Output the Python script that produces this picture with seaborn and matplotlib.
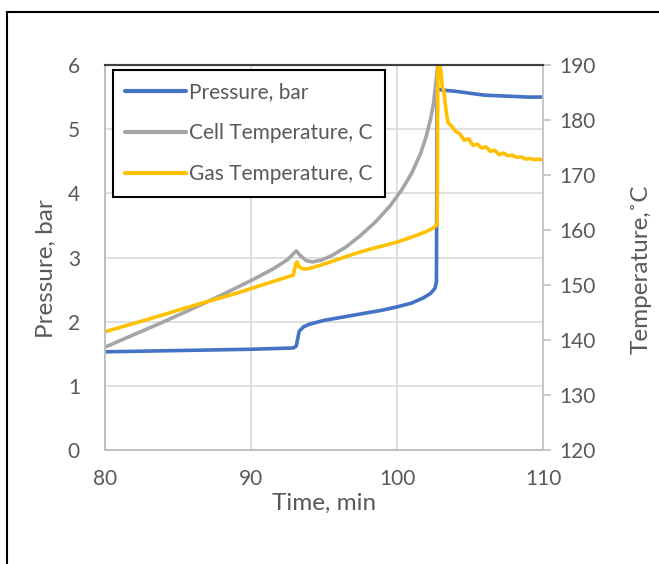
import numpy as np
import pandas as pd
import matplotlib
matplotlib.use("Agg")
import matplotlib.pyplot as plt
from matplotlib.patches import Rectangle
import seaborn as sns

# ---- Data ----
p_time = [80, 85, 90, 92.9, 93.1, 93.3, 93.6, 94, 95, 97, 99, 100, 101, 101.8,
          102.3, 102.6, 102.7, 102.75, 102.85, 103.1, 104, 105, 106, 107, 108,
          109, 110]
pressure = [1.53, 1.55, 1.57, 1.59, 1.62, 1.85, 1.92, 1.96, 2.02, 2.10, 2.18,
            2.23, 2.29, 2.37, 2.44, 2.52, 2.62, 5.62, 5.62, 5.61, 5.59, 5.56,
            5.53, 5.52, 5.51, 5.50, 5.50]

c_time = [80, 82, 84, 86, 88, 90, 91.5, 92.5, 93.1, 93.4, 93.8, 94.2, 94.8,
          95.5, 96.5, 97.5, 98.5, 99.5, 100.3, 101, 101.6, 102, 102.3, 102.5,
          102.65, 102.8]
cell_temp = [138.7, 141.0, 143.3, 145.7, 148.2, 150.8, 152.9, 154.6, 156.2,
             155.3, 154.4, 154.2, 154.5, 155.3, 156.9, 159.0, 161.4, 164.3,
             167.2, 170.3, 173.8, 177.0, 180.2, 183.0, 186.5, 190.5]

g_time = [80, 83, 86, 89, 91, 92.9, 93.05, 93.15, 93.3, 93.6, 94, 95, 96, 97,
          98, 99, 100, 101, 102, 102.5, 102.75, 102.8, 102.9, 103.0, 103.1,
          103.2, 103.3, 103.4, 103.5, 103.7, 104.0, 104.3, 104.6, 104.9, 105.2,
          105.5, 105.8, 106.1, 106.4, 106.7, 107.0, 107.3, 107.6, 107.9, 108.2,
          108.5, 108.8, 109.1, 109.4, 109.7, 110]
gas_temp = [141.5, 143.8, 146.2, 148.5, 150.2, 151.8, 153.7, 154.2, 153.3,
            152.9, 153.0, 153.8, 154.7, 155.6, 156.4, 157.1, 157.8, 158.7,
            159.7, 160.4, 161.0, 191, 191, 189, 186, 185.5, 183, 181, 179.5,
            179, 178, 177.5, 176.3, 176.6, 175.4, 175.6, 174.9, 175.1, 174.3,
            174.5, 173.7, 174.0, 173.5, 173.6, 173.2, 173.3, 172.9, 173.0,
            172.8, 172.9, 172.7]

series_labels = ["Pressure, bar", "Cell Temperature, C", "Gas Temperature, C"]
p_ticks = [0, 1, 2, 3, 4, 5, 6]
t_ticks = [120, 130, 140, 150, 160, 170, 180, 190]
x_ticks = [80, 90, 100, 110]

BLUE, GRAY, GOLD = "#4472C4", "#A5A5A5", "#FFC000"
TXT = "#595959"
GRID = "#D9D9D9"

sns.set_style("white")
plt.rcParams["font.family"] = ["Lato", "DejaVu Sans"]

fig = plt.figure(figsize=(6.59, 5.64), dpi=100)
ax = fig.add_axes([105 / 659, 114 / 564, 438 / 659, 385 / 564])
ax2 = ax.twinx()

df_p = pd.DataFrame({"t": p_time, "v": pressure})
df_c = pd.DataFrame({"t": c_time, "v": cell_temp})
df_g = pd.DataFrame({"t": g_time, "v": gas_temp})

sns.lineplot(data=df_p, x="t", y="v", ax=ax, color=BLUE, lw=2.6,
             sort=False, estimator=None, legend=False)
sns.lineplot(data=df_c, x="t", y="v", ax=ax2, color=GRAY, lw=2.6,
             sort=False, estimator=None, legend=False)
sns.lineplot(data=df_g, x="t", y="v", ax=ax2, color=GOLD, lw=2.6,
             sort=False, estimator=None, legend=False)

ax.set_xlim(80, 110)
ax.set_ylim(0, 6)
ax2.set_ylim(120, 190)
ax.set_xticks(x_ticks)
ax.set_yticks(p_ticks)
ax2.set_yticks(t_ticks)

ax.grid(True, color=GRID, lw=1.2)
ax2.grid(False)
ax.set_axisbelow(True)

for a in (ax, ax2):
    for s in ("left", "right", "bottom"):
        a.spines[s].set_color("#BFBFBF")
        a.spines[s].set_linewidth(1.2)
    a.spines["top"].set_color("#404040")
    a.spines["top"].set_linewidth(1.5)
ax.spines["right"].set_visible(False)

ax.tick_params(axis="x", length=0, labelsize=15, labelcolor=TXT, pad=14)
ax.tick_params(axis="y", length=0, labelsize=15, labelcolor=TXT, pad=18)
ax2.tick_params(axis="y", length=6, width=1.2, color="#BFBFBF",
                labelsize=15, labelcolor=TXT, pad=6)

ax.set_xlabel("Time, min", fontsize=17.5, color=TXT)
ax.set_ylabel("Pressure, bar", fontsize=17.5, color=TXT)
ax2.set_ylabel("Temperature,˚C", fontsize=17.5, color=TXT)
ax.xaxis.set_label_coords(0.5, -0.11)
ax.yaxis.set_label_coords(-0.11, 0.47)
ax2.yaxis.set_label_coords(1.20, 0.47)

# ---- Legend (single box for both axes) ----
handles = ax.get_lines()[:1] + ax2.get_lines()[:2]
leg = ax2.legend(handles=handles, labels=series_labels,
                 loc="upper left", bbox_to_anchor=(0.018, 0.987),
                 borderaxespad=0, fancybox=False, framealpha=1, fontsize=15,
                 handlelength=2.9, labelspacing=1.0, handletextpad=0.15,
                 borderpad=0.6)
leg.get_frame().set_edgecolor("black")
leg.get_frame().set_linewidth(1.5)
for txt in leg.get_texts():
    txt.set_color(TXT)
for line in leg.get_lines():
    line.set_linewidth(3)

# outer chart border (only top and left visible)
fig.patches.append(Rectangle((7 / 659, -0.1), 1.2, 1.1 - 12 / 564,
                             transform=fig.transFigure, fill=False,
                             ec="black", lw=1.5))

fig.savefig("out.png", dpi=100)
